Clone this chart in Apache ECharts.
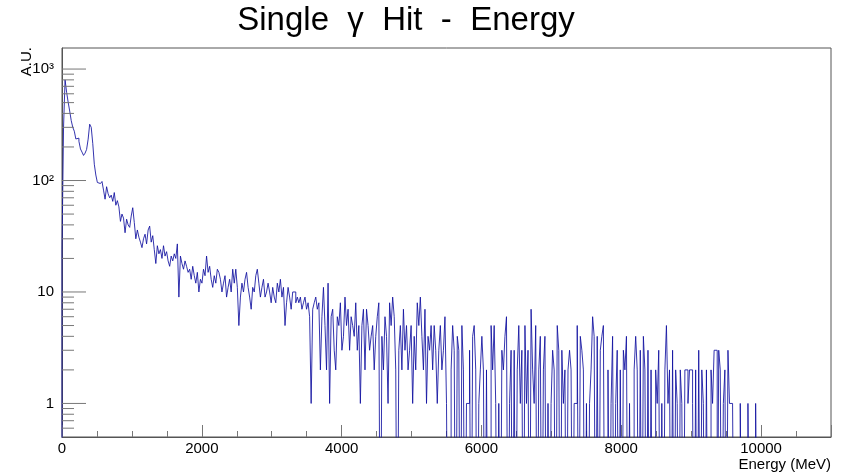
<!DOCTYPE html>
<html>
<head>
<meta charset="utf-8">
<script src="https://cdn.jsdelivr.net/npm/echarts@6/dist/echarts.min.js"></script>
<style>
html,body{margin:0;padding:0;background:#ffffff;}
#chart{width:849px;height:474px;}
</style>
</head>
<body>
<div id="chart"></div>
<script>
// ---- data: counts per 22 MeV bin (500 bins over 0-11000 MeV), starting at 0 MeV ----
const binWidth = 22;
const counts = [
  24,300,800,620,505,420,345,300,277,236,240,225,192,180,168,176,190,235,320,300,
  215,140,112,96,94,92,98,82,68,88,76,70,74,65,78,60,66,58,43,50,
  46,34,45,40,38,48,57,42,30,36,31,28,25,30,33,27,36,39,28,32,
  24,18,26,22,24,20,26,21,23,19,17,21,19,22,20,27,9,21,18,16,
  19,17,15,16,13,17,14,12,15,10,13,12,16,14,21,15,17,13,11,14,
  12,16,15,13,10,12,14,9,11,13,10,16,12,16,11,5,9,12,10,13,
  15,11,9,7,11,10,14,16,12,9,11,13,9,10,12,10,8,11,9,8,
  12,10,13,9,11,5,8,11,9,7,10,10,8,9,
  8,9,7,8,9,7,8,6,1,7,8,9,7,8,2,6,11,5,2,12,
  1,6,7,3,2,6,5,8,3,4,9,5,7,3,6,5,4,8,3,5,
  1,5,7,2,7,5,3,4,5,2,4,6,8,0,4,2,6,4,1,8,
  5,9,6,2,0,3,5,2,7,3,5,2,3,5,1,4,2,8,5,9,
  4,2,7,1,4,3,5,2,5,3,1,3,5,2,3,6,1,0,0,2,
  5,3,0,4,3,0,5,2,0,1,1,3,0,4,5,2,0,1,2,4,
  2,0,2,0,0,5,2,5,1,0,1,0,3,2,4,6,0,1,3,0,
  3,0,2,5,1,3,0,5,1,3,0,7,2,1,5,0,2,4,0,2,
  4,0,1,0,1,3,2,0,5,3,0,3,1,2,0,2,3,2,0,1,
  1,5,0,4,3,2,0,1,0,1,2,6,4,0,4,0,3,4,5,0,
  0,2,0,1,4,0,1,3,0,2,0,3,2,4,0,1,0,0,2,4,
  2,0,3,0,4,2,0,3,0,2,0,0,2,1,3,0,1,0,2,5,
  1,2,0,3,0,2,1,0,2,1,0,2,2,1,2,2,1,0,2,0,
  3,0,2,1,0,2,0,0,2,1,3,3,0,3,2,0,1,2,0,3,
  1,1,1,0,0,0,0,1,0,0,0,0,1,0,0,0,0,1,0
];
const xMin = 0, xMax = 11000, xLabelStep = 2000;
const yMin = 0.5, yMax = 1545;
const yLabelValues = [1, 10, 100, 1000];
const yLabelTexts = ['1', '10', '10\u00b2', '10\u00b3'];
const yMinorTicks = [0.6,0.7,0.8,0.9, 2,3,4,5,6,7,8,9, 20,30,40,50,60,70,80,90, 200,300,400,500,600,700,800,900];
const titleText = 'Single  \u03b3  Hit  -  Energy';
const xTitle = 'Energy (MeV)';
const yTitle = 'A.U.';

// ---- build histogram outline (zero bins drop below the log axis) ----
const floorVal = 0.01;
const histPts = [[0, floorVal]];
counts.forEach((c, i) => histPts.push([i * binWidth, c > 0 ? c : floorVal]));
histPts.push([counts.length * binWidth, floorVal]);

const tickItems = yLabelValues.map(v => [0, v, 24]).concat(yMinorTicks.map(v => [0, v, 12]));

const FONT = 'Liberation Sans, Arial, Helvetica, sans-serif';
const chart = echarts.init(document.getElementById('chart'), null, {renderer: 'canvas'});
chart.setOption({
  animation: false,
  backgroundColor: '#ffffff',
  grid: {left: 62, right: 18, top: 48, bottom: 37, containLabel: false, outerBoundsMode: 'none',
         show: true, borderColor: '#555', borderWidth: 1, backgroundColor: 'transparent'},
  xAxis: {
    type: 'value', min: xMin, max: xMax, interval: xLabelStep,
    axisLine: {show: true, lineStyle: {color: '#555', width: 1}},
    axisTick: {show: true, inside: true, length: 12, lineStyle: {color: '#777'}},
    minorTick: {show: true, splitNumber: 4, length: 6, lineStyle: {color: '#777'}},
    splitLine: {show: false},
    axisLabel: {margin: 4, fontFamily: FONT, fontSize: 15, color: '#000',
      formatter: v => (v % xLabelStep === 0 ? String(v) : '')}
  },
  yAxis: {
    type: 'log', logBase: 10, min: yMin, max: yMax,
    axisLine: {show: true, lineStyle: {color: '#555', width: 1}},
    axisTick: {show: false},
    splitLine: {show: false},
    axisLabel: {margin: 8, fontFamily: FONT, fontSize: 15, color: '#000',
      showMinLabel: false, showMaxLabel: false,
      formatter: v => {
        for (let i = 0; i < yLabelValues.length; i++) {
          if (Math.abs(v - yLabelValues[i]) / yLabelValues[i] < 1e-6) return yLabelTexts[i];
        }
        return '';
      }}
  },
  series: [
    {
      type: 'line', step: 'end', data: histPts, showSymbol: false, symbol: 'none',
      clip: true, lineStyle: {color: '#1010a0', width: 1, opacity: 0.85}, z: 3
    },
    {
      type: 'custom', data: tickItems, z: 4, silent: true,
      renderItem: (params, api) => {
        const p = api.coord([api.value(0), api.value(1)]);
        const len = api.value(2);
        return {type: 'line', shape: {x1: p[0], y1: p[1], x2: p[0] + len, y2: p[1]},
                style: {stroke: '#777', lineWidth: 1}};
      }
    }
  ],
  graphic: [
    {type: 'text', x: 406, y: 21, style: {text: titleText, font: '33px ' + FONT, fill: '#000', align: 'center', verticalAlign: 'middle'}},
    {type: 'text', x: 831, y: 465, style: {text: xTitle, font: '15px ' + FONT, fill: '#000', align: 'right', verticalAlign: 'middle'}},
    {type: 'text', x: 27, y: 47, rotation: Math.PI / 2, style: {text: yTitle, font: '15px ' + FONT, fill: '#000', align: 'right', verticalAlign: 'middle'}}
  ]
});
</script>
</body>
</html>
